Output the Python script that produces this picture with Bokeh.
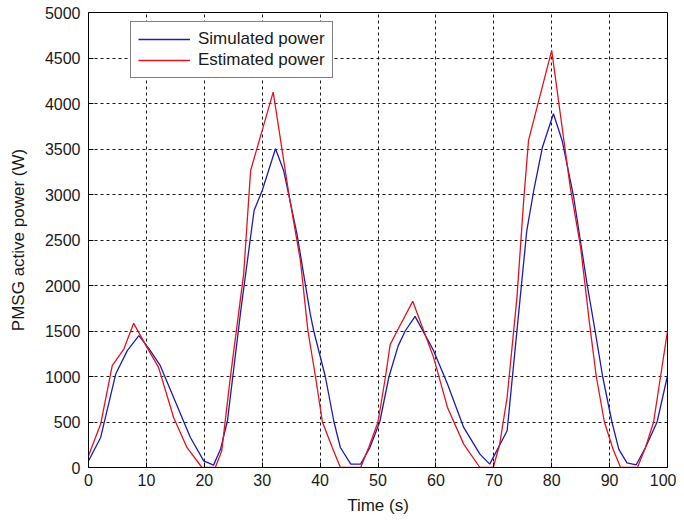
from bokeh.plotting import figure
from bokeh.models import Range1d, FixedTicker, Legend, LegendItem
from bokeh.embed import file_html
from bokeh.resources import INLINE

# ---- data ----
t_sim = [0, 2.1, 4.7, 6.7, 8.7, 10.5, 12.4, 14.7, 17.6, 19.9, 21.6, 22.8, 24.0, 26.3, 28.6, 30.0,
         32.3, 33.7, 36.0, 38.3, 38.9, 40.9, 42.4, 43.5, 45.3, 47.0, 48.6, 50.3, 51.9, 53.5, 54.7,
         56.4, 59.6, 62.0, 64.8, 67.6, 69.3, 72.3, 74.0, 75.7, 76.9, 78.4, 80.3, 81.8, 83.8, 86.1,
         87.5, 88.8, 90.4, 91.6, 93.0, 94.6, 96.2, 98.2, 100]
p_sim = [73, 330, 1027, 1284, 1449, 1300, 1119, 770, 330, 73, 26, 200, 514, 1724, 2824, 3044,
         3503, 3264, 2568, 1688, 1500, 1000, 500, 220, 37, 37, 220, 500, 1000, 1339, 1500,
         1661, 1284, 917, 440, 147, 37, 404, 1504, 2604, 3044, 3520, 3888, 3594, 2970, 2018,
         1500, 1000, 500, 200, 50, 30, 220, 500, 1009]

t_est = [0, 2.1, 4.1, 6.1, 7.8, 10.1, 12.1, 14.7, 17.0, 19.6, 21.9, 23.0, 24.5, 26.8, 28.0, 31.9,
         34.6, 36.6, 37.9, 39.2, 40.4, 42.1, 43.5, 47.0, 48.4, 50.0, 51.3, 52.1, 53.3, 56.0,
         59.6, 62.0, 64.8, 67.6, 69.9, 71.0, 72.3, 74.0, 75.2, 76.0, 80.0, 83.2, 85.0, 86.5,
         87.7, 89.1, 90.6, 91.9, 94.8, 96.2, 97.6, 98.8, 100]
p_est = [129, 477, 1119, 1302, 1584, 1320, 1100, 550, 220, 0, 0, 180, 990, 2127, 3264, 4125,
         3008, 2274, 1500, 1000, 500, 220, 0, 0, 220, 500, 1000, 1350, 1500, 1826,
         1210, 660, 257, 0, 0, 250, 770, 1870, 2970, 3594, 4584, 3080, 2420, 1600,
         1000, 500, 200, 0, 0, 220, 500, 1000, 1500]

x_ticks = list(range(0, 101, 10))
y_ticks = list(range(0, 5001, 500))

series_labels = ["Simulated power", "Estimated power"]
x_label = "Time (s)"
y_label = "PMSG active power (W)"

FONT = "Liberation Sans"
TXT = "#1a1a1a"

p = figure(width=676, height=519, output_backend="svg", toolbar_location=None,
           x_range=Range1d(0, 100), y_range=Range1d(0, 5000),
           min_border_left=88, min_border_right=9, min_border_top=12, min_border_bottom=52)

p.background_fill_color = "white"
p.border_fill_color = "white"
p.outline_line_color = "black"
p.outline_line_width = 1

for ax in (p.xaxis[0], p.yaxis[0]):
    ax.major_label_text_font = FONT
    ax.major_label_text_font_size = "16px"
    ax.major_label_text_color = TXT
    ax.axis_label_text_font = FONT
    ax.axis_label_text_font_size = "17px"
    ax.axis_label_text_font_style = "normal"
    ax.axis_label_text_color = TXT
    ax.major_tick_in = 5
    ax.major_tick_out = 0
    ax.minor_tick_in = 0
    ax.minor_tick_out = 0
    ax.axis_line_color = "black"
    ax.major_tick_line_color = "black"

p.xaxis[0].ticker = FixedTicker(ticks=x_ticks)
p.yaxis[0].ticker = FixedTicker(ticks=y_ticks)
p.xaxis[0].axis_label = x_label
p.yaxis[0].axis_label = y_label
p.xaxis[0].major_label_standoff = 6
p.xaxis[0].axis_label_standoff = 7
p.yaxis[0].major_label_standoff = 8
p.yaxis[0].axis_label_standoff = 14

for g in (p.xgrid[0], p.ygrid[0]):
    g.grid_line_color = "black"
    g.grid_line_dash = "3 3"
    g.grid_line_width = 1
    g.grid_line_alpha = 0.9

r_sim = p.line(t_sim, p_sim, line_color="#1c1cb0", line_width=1.3)
r_est = p.line(t_est, p_est, line_color="#e3121c", line_width=1.3)

legend = Legend(items=[LegendItem(label=series_labels[0], renderers=[r_sim]),
                       LegendItem(label=series_labels[1], renderers=[r_est])],
                location=(42, 389))
legend.label_text_font = FONT
legend.label_text_font_size = "17px"
legend.label_text_color = TXT
legend.border_line_color = "black"
legend.border_line_width = 1
legend.background_fill_color = "white"
legend.background_fill_alpha = 1
legend.padding = 7
legend.spacing = 1
legend.margin = 0
legend.glyph_width = 52
legend.glyph_height = 18
legend.label_height = 18
legend.label_standoff = 8
p.add_layout(legend, "center")

open("out.html", "w").write(file_html(p, INLINE))
